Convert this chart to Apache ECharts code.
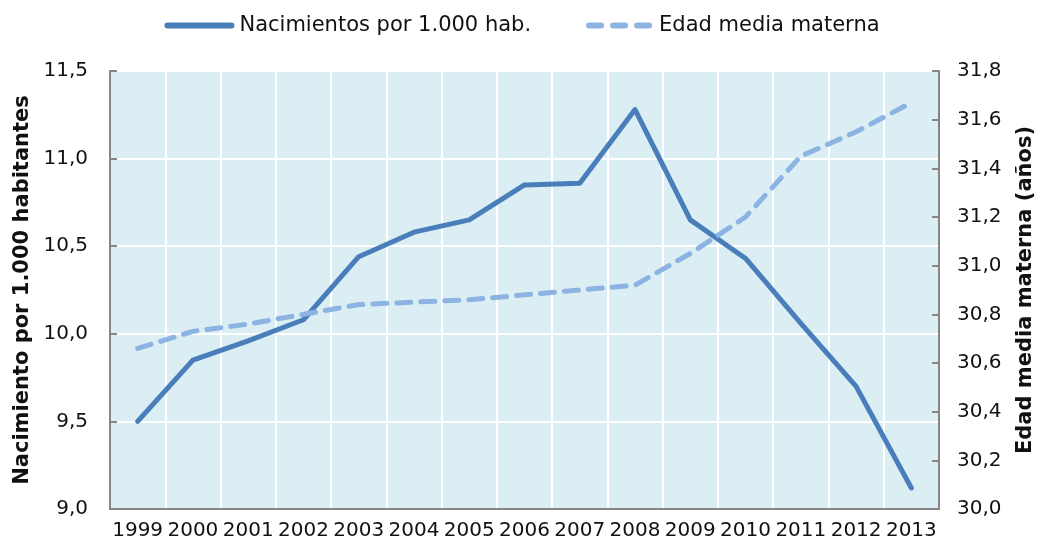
<!DOCTYPE html>
<html>
<head>
<meta charset="utf-8">
<style>
  html, body { margin: 0; padding: 0; background: #fff; }
  .chart { width: 1044px; height: 548px; }
</style>
<script src="https://cdn.jsdelivr.net/npm/echarts@6.0.0/dist/echarts.min.js"></script>
</head>
<body>
<div class="chart"></div>
<script>
// datos
const years = ["1999", "2000", "2001", "2002", "2003", "2004", "2005", "2006",
  "2007", "2008", "2009", "2010", "2011", "2012", "2013"];
// nacimientos por 1.000 habitantes (eje izquierdo)
const birthRate = [9.50, 9.85, 9.96, 10.08, 10.44, 10.58, 10.65, 10.85,
  10.86, 11.28, 10.65, 10.43, 10.06, 9.70, 9.12];
// edad media materna (eje derecho)
const motherAge = [30.66, 30.73, 30.76, 30.80, 30.84, 30.85, 30.86, 30.88,
  30.90, 30.92, 31.05, 31.20, 31.45, 31.55, 31.67];
const seriesNames = ["Nacimientos por 1.000 hab.", "Edad media materna"];
const axisNames = ["Nacimiento por 1.000 habitantes", "Edad media materna (años)"];

(function () {
  let myChart = echarts.init(document.querySelector(".chart"));
  const font = "DejaVu Sans";
  // 9,5 -> formato con coma decimal
  const fmt = function (v) {
    return v.toFixed(1).replace(".", ",");
  };
  // iconos de la leyenda: barra continua y tres guiones redondeados
  const solidIcon = "path://M3,0H67A3,3 0 0 1 67,6H3A3,3 0 0 1 3,0Z";
  const dashIcon = "path://M3,0H15A3,3 0 0 1 15,6H3A3,3 0 0 1 3,0Z" +
    "M27,0H39A3,3 0 0 1 39,6H27A3,3 0 0 1 27,0Z" +
    "M51,0H63A3,3 0 0 1 63,6H51A3,3 0 0 1 51,0Z";
  const valueAxisBase = {
    type: "value",
    nameLocation: "middle",
    nameRotate: 90,
    nameGap: 76,
    nameTextStyle: { fontFamily: font, fontSize: 21, fontWeight: "bold", color: "#111" },
    axisLine: { show: true, lineStyle: { color: "#868686", width: 2 } },
    axisTick: { show: true, inside: true, length: 7, lineStyle: { color: "#868686", width: 2 } },
    axisLabel: { fontFamily: font, fontSize: 20, color: "#111", formatter: fmt },
  };
  let option = {
    color: ["#4a7ebb", "#8db3e2"],
    animation: false,
    legend: {
      top: 10,
      left: "center",
      itemWidth: 70,
      itemHeight: 6,
      itemGap: 55,
      textStyle: { fontFamily: font, fontSize: 21, color: "#111" },
      data: [
        { name: seriesNames[0], icon: solidIcon },
        { name: seriesNames[1], icon: dashIcon },
      ],
    },
    grid: {
      left: 110,
      right: 102,
      top: 71,
      bottom: 39,
      show: true,
      backgroundColor: "#dbeef4",
      borderWidth: 0,
    },
    xAxis: {
      type: "category",
      data: years,
      boundaryGap: true,
      axisLine: { lineStyle: { color: "#868686", width: 2 } },
      axisTick: { inside: true, length: 7, lineStyle: { color: "#868686", width: 2 } },
      axisLabel: { fontFamily: font, fontSize: 20, color: "#111", margin: 12, interval: 0 },
      splitLine: { show: true, lineStyle: { color: "#fff", width: 2 } },
    },
    yAxis: [
      Object.assign({}, valueAxisBase, {
        name: axisNames[0],
        position: "left",
        min: 9,
        max: 11.5,
        interval: 0.5,
        axisLabel: Object.assign({}, valueAxisBase.axisLabel, { margin: 22 }),
        splitLine: { show: true, lineStyle: { color: "#fff", width: 2 } },
      }),
      Object.assign({}, valueAxisBase, {
        name: axisNames[1],
        position: "right",
        min: 30,
        max: 31.8,
        interval: 0.2,
        axisLabel: Object.assign({}, valueAxisBase.axisLabel, { margin: 18 }),
        splitLine: { show: false },
      }),
    ],
    series: [
      {
        name: seriesNames[0],
        type: "line",
        yAxisIndex: 0,
        data: birthRate,
        symbol: "none",
        lineStyle: { width: 5, color: "#4a7ebb", cap: "round", join: "round" },
      },
      {
        name: seriesNames[1],
        type: "line",
        yAxisIndex: 1,
        data: motherAge,
        symbol: "none",
        lineStyle: { width: 5, color: "#8db3e2", type: [14, 10], cap: "round", join: "round" },
      },
    ],
  };
  myChart.setOption(option);
  window.addEventListener("resize", function () {
    myChart.resize();
  });
})();
</script>
</body>
</html>
